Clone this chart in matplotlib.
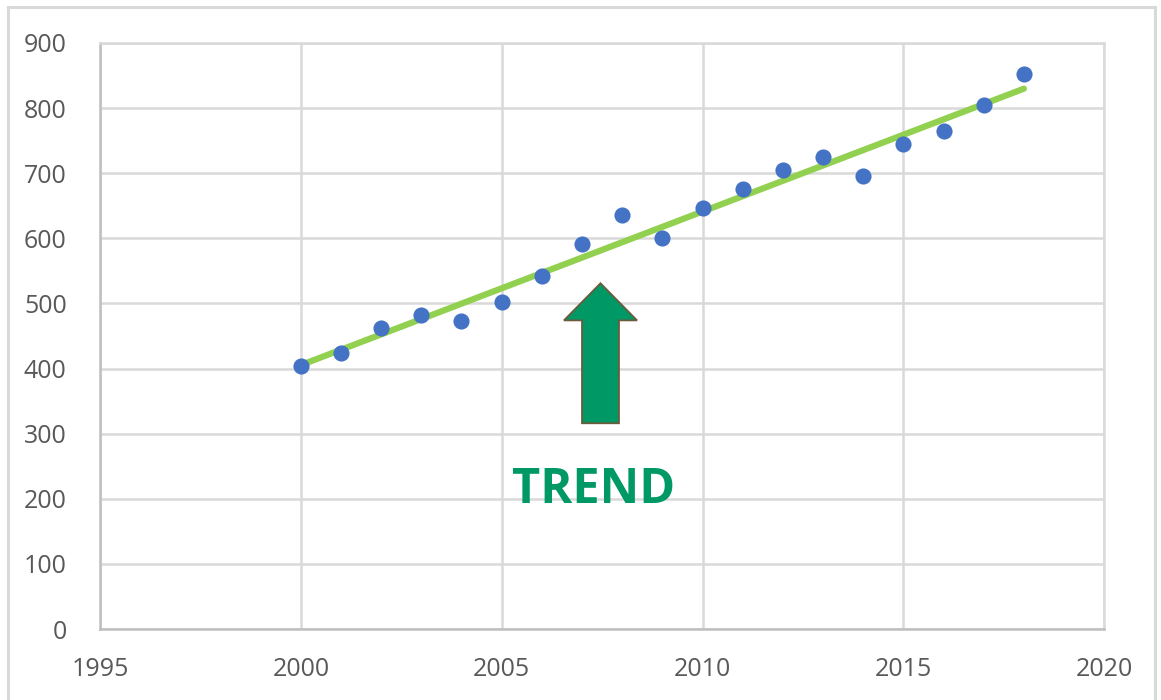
import numpy as np
import matplotlib.pyplot as plt
from matplotlib.patches import Rectangle

years = [2000, 2001, 2002, 2003, 2004, 2005, 2006, 2007, 2008, 2009,
         2010, 2011, 2012, 2013, 2014, 2015, 2016, 2017, 2018]
values = [404, 424, 463, 483, 473, 502, 542, 591, 636, 601,
          646, 676, 705, 725, 696, 745, 765, 805, 852]
x_ticks = [1995, 2000, 2005, 2010, 2015, 2020]
y_ticks = [0, 100, 200, 300, 400, 500, 600, 700, 800, 900]
label = "TREND"

plt.rcParams['font.family'] = ['Open Sans', 'DejaVu Sans']

fig = plt.figure(figsize=(11.61, 7.0), dpi=100)
ax = fig.add_axes([0.0861, 0.1014, 0.8650, 0.8372])

fig.patches.append(Rectangle((0.007, -0.01), 0.988, 1.0, transform=fig.transFigure,
                             fill=False, edgecolor='#d9d9d9', linewidth=2.2))

# trend line from least squares fit
x = np.array(years, dtype=float)
y = np.array(values, dtype=float)
m, b = np.polyfit(x, y, 1)
ax.plot([x[0], x[-1]], [m * x[0] + b, m * x[-1] + b], color='#92d050',
        linewidth=4.5, solid_capstyle='round', zorder=3)

ax.scatter(years, values, s=135, color='#4472c4', zorder=4, linewidths=0)

# arrow + label
ax.arrow(2007.46, 316, 0, 215, width=0.92, head_width=1.82, head_length=57,
         length_includes_head=True, facecolor='#009966', edgecolor='#6b5a3c',
         linewidth=1.3, zorder=5)
ax.text(2007.3, 212, label, color='#009966', fontsize=35, fontweight='bold',
        ha='center', va='center', zorder=5)

ax.set_xlim(1995, 2020)
ax.set_ylim(0, 900)
ax.set_xticks(x_ticks)
ax.set_yticks(y_ticks)
ax.grid(True, color='#d9d9d9', linewidth=1.8)
ax.set_axisbelow(True)
ax.tick_params(length=0, labelsize=18, labelcolor='#595959', pad=24)
ax.tick_params(axis='x', pad=20)
for side in ['top', 'right']:
    ax.spines[side].set_color('#d9d9d9')
    ax.spines[side].set_linewidth(1.8)
for side in ['left', 'bottom']:
    ax.spines[side].set_color('#bfbfbf')
    ax.spines[side].set_linewidth(1.8)

plt.savefig('out.png', dpi=100)
